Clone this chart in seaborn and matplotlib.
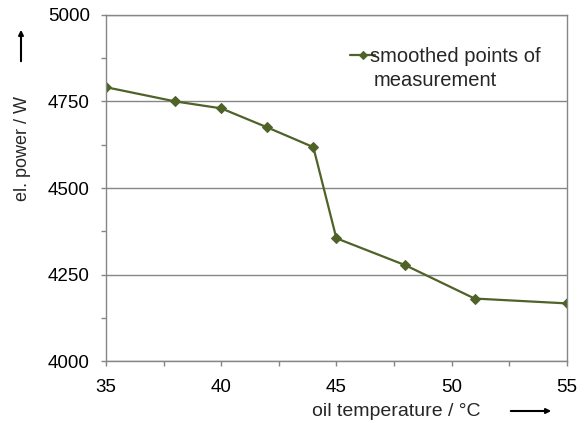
import numpy as np
import pandas as pd
import matplotlib
matplotlib.use("Agg")
import matplotlib.pyplot as plt
from matplotlib.ticker import MultipleLocator
import seaborn as sns

sns.set_style("white")
plt.rcParams['font.family'] = ['Liberation Sans', 'DejaVu Sans']

# data
oil_temp = [35, 38, 40, 42, 44, 45, 48, 51, 55]
el_power = [4791, 4750, 4730, 4675, 4618, 4355, 4277, 4181, 4167]
series_name = "smoothed points of"
series_name_2 = "measurement"

df = pd.DataFrame({"oil temperature": oil_temp, "el. power": el_power})

line_col = "#4F6228"
grey = "#868686"

fig = plt.figure(figsize=(5.86, 4.23), dpi=100)
ax = fig.add_axes([0.181, 0.146, 0.786, 0.819])

sns.lineplot(data=df, x="oil temperature", y="el. power", ax=ax,
             color=line_col, linewidth=1.6, marker="D", markersize=4.8,
             markeredgecolor=line_col, label=series_name)

ax.set_xlim(35, 55)
ax.set_ylim(4000, 5000)
ax.xaxis.set_major_locator(MultipleLocator(5))
ax.xaxis.set_minor_locator(MultipleLocator(2.5))
ax.yaxis.set_major_locator(MultipleLocator(250))
ax.yaxis.set_minor_locator(MultipleLocator(125))
ax.grid(axis="y", which="major", color=grey, linewidth=1)
ax.set_axisbelow(True)
for s in ax.spines.values():
    s.set_color(grey)
    s.set_linewidth(1)
ax.tick_params(axis="both", which="both", direction="out", color=grey,
               width=1, length=3.6, labelsize=13.5, labelcolor="black",
               bottom=True, left=True)
ax.tick_params(axis="x", which="major", pad=9.5)
ax.tick_params(axis="y", which="major", pad=8)

ax.set_xlabel("")
ax.set_ylabel("")
fig.text(396 / 586, 1 - 411 / 423, "oil temperature / °C", ha="center",
         va="center", fontsize=14)
fig.text(23 / 586, 1 - 148 / 423, "el. power / W", ha="center", va="center",
         rotation=90, fontsize=13)

# direction arrows
fig.add_artist(matplotlib.patches.FancyArrowPatch(
    (21 / 586, 1 - 64 / 423), (21 / 586, 1 - 27 / 423),
    transform=fig.transFigure, arrowstyle="-|>", mutation_scale=7,
    color="black", linewidth=1.5))
fig.add_artist(matplotlib.patches.FancyArrowPatch(
    (508 / 586, 1 - 411 / 423), (554 / 586, 1 - 411 / 423),
    transform=fig.transFigure, arrowstyle="-|>", mutation_scale=7,
    color="black", linewidth=1.5))

leg = ax.legend(loc="center left", bbox_to_anchor=(350 / 586, 1 - 57 / 423),
                bbox_transform=fig.transFigure, frameon=False,
                fontsize=14.5, handlelength=1.25, handletextpad=-0.26,
                borderaxespad=0, borderpad=0)
for h in leg.legend_handles:
    h.set_markersize(4)
# second line of the legend label, kept under the first one
fig.text(374 / 586, 1 - 81 / 423, series_name_2, ha="left", va="center",
         fontsize=14.5)

fig.savefig("out.png", dpi=100)
